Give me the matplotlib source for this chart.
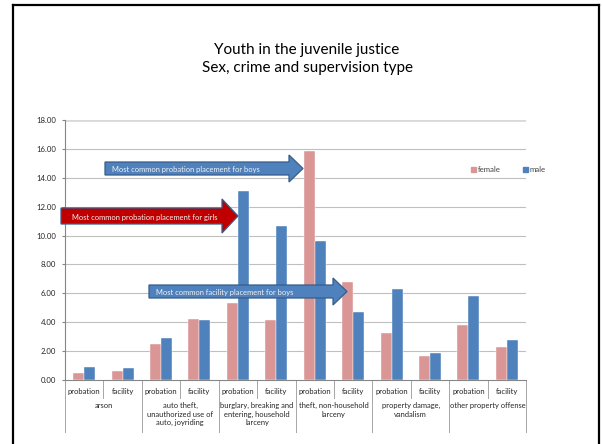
import numpy as np
import matplotlib.pyplot as plt
from matplotlib.patches import Polygon, Rectangle
from matplotlib.lines import Line2D

# data
crimes = ["arson",
          "auto theft,\nunauthorized use of\nauto, joyriding",
          "burglary, breaking and\nentering, household\nlarceny",
          "theft, non-household\nlarceny",
          "property damage,\nvandalism",
          "other property offense"]
supervision = ["probation", "facility"]
female = [0.46, 0.62, 2.49, 4.22, 5.33, 4.15, 15.83, 6.78, 3.25, 1.66, 3.78, 2.31]
male = [0.88, 0.81, 2.91, 4.15, 13.06, 10.66, 9.65, 4.68, 6.28, 1.85, 5.79, 2.75]
yticks = np.arange(0, 18.01, 2)

W, H = 602, 444
FONT = "Lato"
plt.rcParams["font.family"] = [FONT, "DejaVu Sans"]

fig = plt.figure(figsize=(W / 100, H / 100), dpi=100)
fig.patch.set_facecolor("white")


def fx(px):
    return px / W


def fy(py):
    return 1 - py / H


# axes placed in pixel space of the slide
ax = fig.add_axes([fx(65), fy(380), fx(526) - fx(65), fy(120) - fy(380)])

n = len(female)
x = np.arange(n)
bw = 0.287
ax.bar(x - bw / 2, female, bw, color="#D99694", edgecolor="white", linewidth=0.3, zorder=3, label="female")
ax.bar(x + bw / 2, male, bw, color="#4F81BD", edgecolor="white", linewidth=0.3, zorder=3, label="male")

ax.set_xlim(-0.5, n - 0.5)
ax.set_ylim(0, 18)
ax.set_yticks(yticks)
ax.set_yticklabels([f"{v:.2f}" for v in yticks], fontsize=5.6, color="#262626")
ax.tick_params(axis="y", length=2.2, width=0.8, color="#868686", pad=4)
ax.set_xticks([])

for v in yticks[1:-1]:
    ax.axhline(v, color="#BFBFBF", linewidth=0.8, zorder=1)
ax.axhline(18, color="#D9D9D9", linewidth=2.0, zorder=1)

for s in ["top", "right"]:
    ax.spines[s].set_visible(False)
for s in ["left", "bottom"]:
    ax.spines[s].set_color("#868686")
    ax.spines[s].set_linewidth(0.8)

# two-level category axis
trans = ax.get_xaxis_transform()
ax_h = 380 - 120
for k in range(n + 1):
    xb = k - 0.5
    depth = (432 - 380) if k % 2 == 0 else (398 - 380)
    ax.plot([xb, xb], [0, -depth / ax_h], transform=trans, color="#A6A6A6",
            linewidth=0.7, clip_on=False)
for k in range(n):
    ax.text(k, -(391 - 380) / ax_h, supervision[k % 2], transform=trans,
            ha="center", va="center", fontsize=5.5, color="#262626")
for g, name in enumerate(crimes):
    ax.text(2 * g + 0.5, -(402 - 380) / ax_h, name, transform=trans,
            ha="center", va="top", fontsize=5.4, color="#262626", linespacing=1.25)

# legend
handles = [Rectangle((0, 0), 1, 1, color="#D99694"), Rectangle((0, 0), 1, 1, color="#4F81BD")]
fig.legend(handles, ["female", "male"], loc="center left",
           bbox_to_anchor=(fx(464), fy(170)), ncol=2, frameon=False,
           fontsize=5.6, handlelength=0.7, handleheight=0.7, handletextpad=0.2,
           columnspacing=2.8, labelcolor="#404040")


def block_arrow(x0, xh, xt, yc, bh, hh, color, text, tx):
    pts = [(x0, yc - bh / 2), (xh, yc - bh / 2), (xh, yc - hh / 2), (xt, yc),
           (xh, yc + hh / 2), (xh, yc + bh / 2), (x0, yc + bh / 2)]
    pts = [(fx(a), fy(b)) for a, b in pts]
    fig.add_artist(Polygon(pts, closed=True, facecolor=color, edgecolor="#385D8A",
                           linewidth=0.9, transform=fig.transFigure, zorder=10))
    fig.text(fx(tx), fy(yc + 1), text, ha="left", va="center", fontsize=5.4,
             color="#F2F2F2", zorder=11)


block_arrow(105, 289, 303, 168.5, 13, 27, "#4F81BD",
            "Most common probation placement for boys", 112)
block_arrow(61, 222, 238, 216, 16, 34, "#C00000",
            "Most common probation placement for girls", 72)
block_arrow(149, 333, 347, 291.5, 13, 27, "#4F81BD",
            "Most common facility placement for boys", 156)

# title
fig.text(fx(307), fy(50), "Youth in the juvenile justice", ha="center", va="center",
         fontsize=11, color="#000000")
fig.text(fx(307), fy(68), "Sex, crime and supervision type", ha="center", va="center",
         fontsize=11, color="#000000")

# slide frame
for seg in [[(13, 444), (13, 5)], [(13, 5), (599, 5)], [(599, 5), (599, 444)]]:
    fig.add_artist(Line2D([fx(seg[0][0]), fx(seg[1][0])], [fy(seg[0][1]), fy(seg[1][1])],
                          transform=fig.transFigure, color="black", linewidth=1.6))

fig.savefig("out.png", dpi=100)
